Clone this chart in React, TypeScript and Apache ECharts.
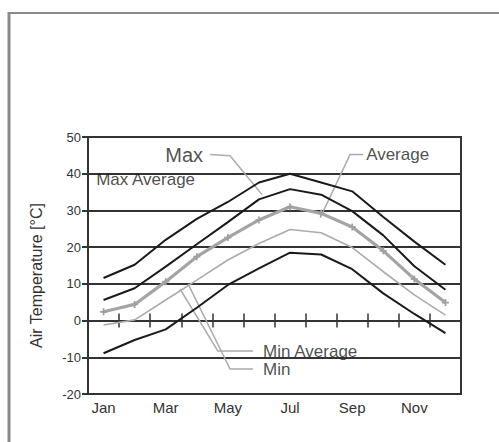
import React, { useEffect, useRef } from "react";
import * as echarts from "echarts";

const months = ["Jan", "Feb", "Mar", "Apr", "May", "Jun", "Jul", "Aug", "Sep", "Oct", "Nov", "Dec"];
const maxTemp = [11.6, 15.2, 22.0, 27.7, 32.3, 37.6, 40.0, 37.6, 35.2, 28.2, 21.5, 15.2];
const maxAverage = [5.6, 8.8, 14.7, 20.8, 26.8, 33.0, 35.8, 34.3, 29.8, 23.2, 14.8, 8.4];
const average = [2.4, 4.4, 10.6, 17.4, 22.6, 27.4, 31.0, 29.2, 25.5, 19.0, 11.3, 4.9];
const minAverage = [-1.2, 0.2, 5.6, 11.0, 16.5, 21.0, 24.8, 23.9, 19.9, 13.3, 7.0, 1.5];
const minTemp = [-8.9, -5.3, -2.4, 3.5, 9.7, 14.2, 18.5, 18.0, 14.0, 7.4, 1.8, -3.4];

const yMin = -20;
const yMax = 50;
const yStep = 10;

// annotation leader lines, in (month index, °C)
const leaderMax = [[3.43, 45.2], [4.07, 44.9], [5.1, 34.3]];
const leaderAverage = [[8.35, 45.2], [7.93, 45.2], [6.97, 28.0]];
const leaderMinAverage = [[4.81, -8.3], [3.68, -8.3], [2.46, 8.6]];
const leaderMin = [[4.81, -13.2], [4.07, -13.2], [2.72, 10.0]];

const labelNames = ["Max", "Max Average", "Average", "Min Average", "Min"];
const labelPoints = [[3.43, 45.2], [-0.24, 38.4], [8.35, 45.2], [4.81, -8.3], [4.81, -13.2]];

const FONT = "'Liberation Sans', Arial, sans-serif";

export default function App() {
  const ref = useRef<HTMLDivElement>(null);
  useEffect(() => {
    if (!ref.current) return;
    const chart = echarts.init(ref.current, undefined, { renderer: "svg" });
    const dark = "#333333";
    const leader = (data: number[][]) => ({
      type: "line",
      xAxisIndex: 3,
      yAxisIndex: 0,
      data,
      symbol: "none",
      silent: true,
      lineStyle: { color: "#aaaaaa", width: 1.5 },
      z: 4,
    });
    const labelPos = ["left", "right", "right", "right", "right"];
    const labelDist = [7, 0, 3, 10, 10];
    const labelSize = [20, 17, 17, 17, 17];
    chart.setOption({
      animation: false,
      backgroundColor: "#ffffff",
      textStyle: { fontFamily: FONT },
      graphic: [
        { type: "line", shape: { x1: 8, y1: 13, x2: 499, y2: 13 }, style: { stroke: "#8a8a8a", lineWidth: 2 } },
        { type: "line", shape: { x1: 9, y1: 12, x2: 9, y2: 442 }, style: { stroke: "#8a8a8a", lineWidth: 3 } },
      ],
      grid: {
        left: 88,
        right: 38,
        top: 137,
        bottom: 48,
        show: true,
        borderColor: dark,
        borderWidth: 2,
        backgroundColor: "transparent",
      },
      xAxis: [
        {
          type: "category",
          data: months,
          position: "bottom",
          boundaryGap: true,
          axisLine: { show: true, onZero: false, lineStyle: { color: dark, width: 2 } },
          axisTick: { show: false },
          axisLabel: { interval: 1, fontSize: 15, color: "#333", margin: 6, fontFamily: FONT },
          splitLine: { show: false },
        },
        {
          type: "category",
          data: months,
          position: "bottom",
          boundaryGap: true,
          axisLine: { show: true, onZero: true, onZeroAxisIndex: 0, lineStyle: { color: dark, width: 2 } },
          axisTick: { show: true, inside: true, length: 7, lineStyle: { color: dark, width: 1.5 } },
          axisLabel: { show: false },
          splitLine: { show: false },
        },
        {
          type: "category",
          data: months,
          position: "bottom",
          boundaryGap: true,
          axisLine: { show: false, onZero: true, onZeroAxisIndex: 0 },
          axisTick: { show: true, inside: false, length: 7, lineStyle: { color: dark, width: 1.5 } },
          axisLabel: { show: false },
          splitLine: { show: false },
        },
        {
          type: "value",
          min: -0.5,
          max: 11.5,
          show: false,
          axisLine: { onZero: false },
          splitLine: { show: false },
        },
      ],
      yAxis: [
        {
          type: "value",
          min: yMin,
          max: yMax,
          interval: yStep,
          name: "Air Temperature [°C]",
          nameLocation: "middle",
          nameGap: 44,
          nameTextStyle: { fontSize: 16, color: "#333", fontFamily: FONT, padding: [0, 20, 0, 0] },
          axisLine: { show: true, onZero: false, lineStyle: { color: dark, width: 2 } },
          axisTick: { show: true, inside: false, length: 6, lineStyle: { color: dark, width: 2 } },
          axisLabel: { fontSize: 13, color: "#333", margin: 7, fontFamily: FONT },
          splitLine: { show: true, lineStyle: { color: dark, width: 2 } },
        },
      ],
      series: [
        {
          name: "Max",
          type: "line",
          data: maxTemp,
          symbol: "none",
          lineStyle: { color: "#1a1a1a", width: 2 },
          z: 5,
        },
        {
          name: "Max Average",
          type: "line",
          data: maxAverage,
          symbol: "none",
          lineStyle: { color: "#1a1a1a", width: 2 },
          z: 5,
        },
        {
          name: "Average",
          type: "line",
          data: average,
          symbol: "path://M-1,-4 H1 V-1 H4 V1 H1 V4 H-1 V1 H-4 V-1 H-1 Z",
          symbolSize: 7,
          itemStyle: { color: "#a0a0a0" },
          lineStyle: { color: "#a4a4a4", width: 3.2 },
          z: 5,
        },
        {
          name: "Min Average",
          type: "line",
          data: minAverage,
          symbol: "none",
          lineStyle: { color: "#ababab", width: 1.6 },
          z: 5,
        },
        {
          name: "Min",
          type: "line",
          data: minTemp,
          symbol: "none",
          lineStyle: { color: "#1a1a1a", width: 2 },
          z: 5,
        },
        leader(leaderMax),
        leader(leaderAverage),
        leader(leaderMinAverage),
        leader(leaderMin),
        {
          type: "scatter",
          xAxisIndex: 3,
          yAxisIndex: 0,
          symbolSize: 0.1,
          itemStyle: { color: "transparent" },
          silent: true,
          z: 6,
          data: labelPoints.map((p, i) => ({
            value: p,
            label: {
              show: true,
              formatter: labelNames[i],
              position: labelPos[i],
              distance: labelDist[i],
              fontSize: labelSize[i],
              color: "#222",
              fontFamily: FONT,
            },
          })),
        },
      ],
    });
    return () => chart.dispose();
  }, []);
  return (
    <div
      ref={ref}
      style={{ position: "fixed", left: 0, top: 0, width: 499, height: 442, background: "#fff" }}
    />
  );
}
